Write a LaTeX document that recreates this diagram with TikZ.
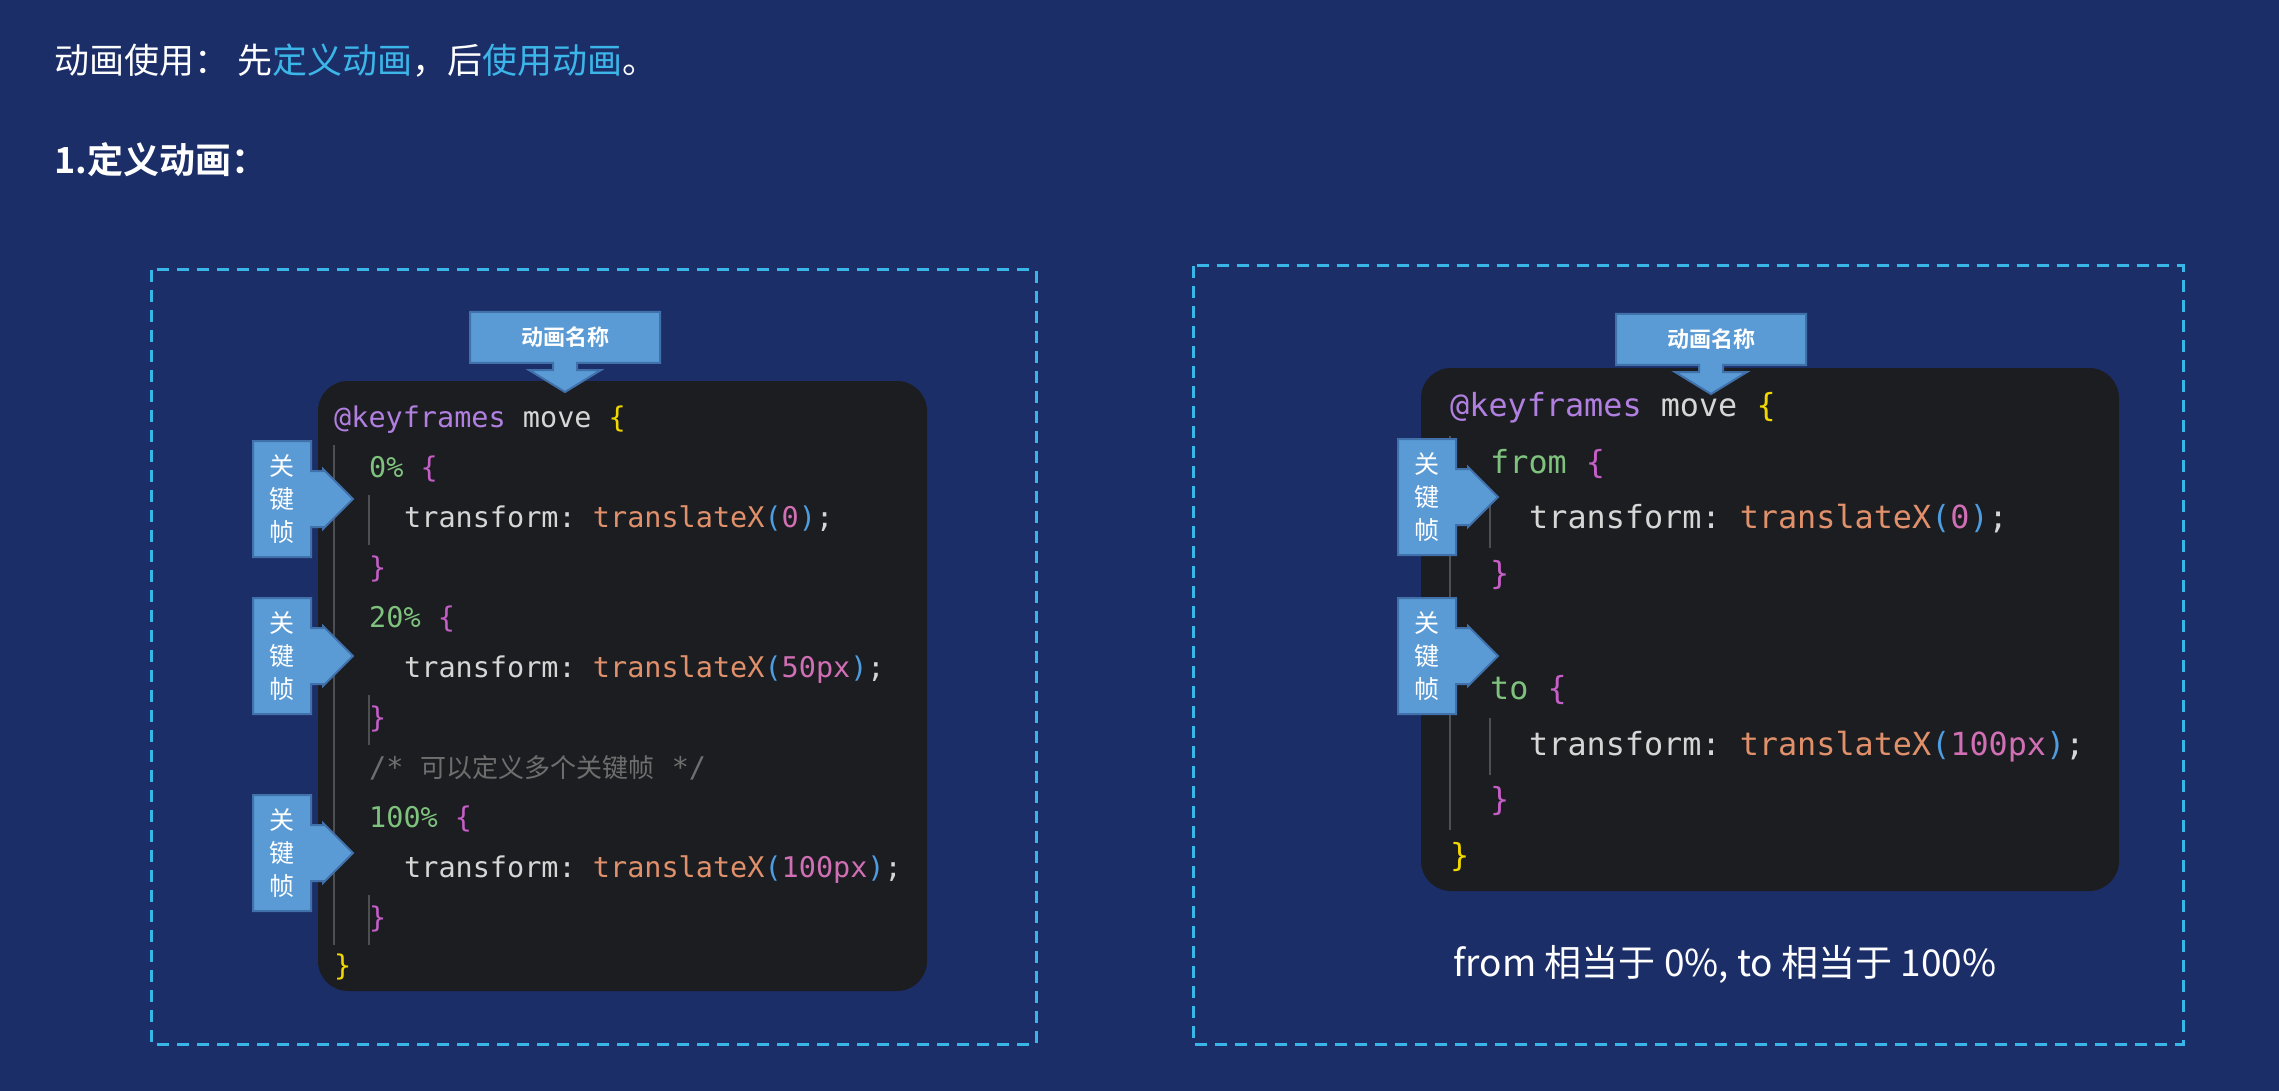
\documentclass[tikz,border=0pt]{standalone}
\usepackage{fontspec}
\setmonofont{DejaVu Sans Mono}
\newfontfamily\cjk{Noto Sans CJK SC}
\newfontfamily\cjkb{Noto Sans CJK SC Bold}
\definecolor{bg}{RGB}{27,46,104}
\definecolor{dash}{RGB}{56,182,232}
\definecolor{panel}{RGB}{28,29,33}
\definecolor{lbl}{RGB}{91,155,213}
\definecolor{lbld}{RGB}{65,113,170}
\definecolor{kw}{RGB}{176,127,224}
\definecolor{pl}{RGB}{214,214,214}
\definecolor{yb}{RGB}{241,215,0}
\definecolor{gn}{RGB}{126,194,126}
\definecolor{mg}{RGB}{197,95,199}
\definecolor{fn}{RGB}{224,144,106}
\definecolor{pb}{RGB}{77,157,224}
\definecolor{nm}{RGB}{209,111,181}
\definecolor{cm}{RGB}{110,110,110}
\definecolor{hl}{RGB}{60,182,232}
\begin{document}
\begin{tikzpicture}[x=1pt,y=-1pt,
  boxd/.style={draw=dash,line width=3pt,dash pattern=on 12pt off 8pt},
  pnl/.style={fill=panel,rounded corners=30pt},
  lblshape/.style={fill=lbl,draw=lbld,line width=2pt},
  lbltxt/.style={text=white,font=\cjkb\fontsize{22}{26}\selectfont,align=center,inner sep=0pt},
  codeL/.style={anchor=west,inner sep=0pt,font=\ttfamily\fontsize{28.5}{30}\selectfont,text height=21pt,text depth=6pt},
  codeR/.style={anchor=west,inner sep=0pt,font=\ttfamily\fontsize{31.8}{34}\selectfont,text height=23pt,text depth=7pt},
  guide/.style={draw=white!22!panel,line width=1.2pt}]
\fill[bg] (0,0) rectangle (2279,1091);
\useasboundingbox (0,0) rectangle (2279,1091);
% titles
\node[anchor=west,inner sep=0pt,font=\cjk\fontsize{35}{40}\selectfont,text=white] (t1) at (54,61)
  {动画使用： 先\textcolor{hl}{定义动画}，后\textcolor{hl}{使用动画}。};
\node[anchor=west,inner sep=0pt,font=\cjkb\fontsize{36}{40}\selectfont,text=white] (t2) at (54,160) {1.定义动画：};
% dashed frames
\draw[boxd] (151,270) rectangle (1036,1044);
\draw[boxd] (1193,266) rectangle (2183,1044);
% panels
\fill[pnl] (318,381) rectangle (927,991);
\fill[pnl] (1421,368) rectangle (2119,891);
% guides left
\draw[guide] (334,445) -- (334,945);
\draw[guide] (369,495) -- (369,545);
\draw[guide] (369,695) -- (369,745);
\draw[guide] (369,895) -- (369,945);
% guides right
\draw[guide] (1450,436) -- (1450,830);
\draw[guide] (1490,492) -- (1490,548);
\draw[guide] (1490,718) -- (1490,775);
% name labels
\foreach \cx/\ty/\nm in {565/312/nameL,1711/314/nameR}{
  \draw[lblshape] (\cx-95,\ty) -- (\cx+95,\ty) -- (\cx+95,\ty+51) -- (\cx+12,\ty+51) -- (\cx+12,\ty+58)
    -- (\cx+36,\ty+58) -- (\cx,\ty+80) -- (\cx-36,\ty+58) -- (\cx-12,\ty+58) -- (\cx-12,\ty+51) -- (\cx-95,\ty+51) -- cycle;
  \node[lbltxt] (\nm) at (\cx,\ty+25) {动画名称};
}
% keyframe labels
\foreach \lx/\cy/\nm in {253/499/kA,253/656/kB,253/853/kC,1398/497/kD,1398/656/kE}{
  \draw[lblshape] (\lx,\cy-58) -- (\lx+58,\cy-58) -- (\lx+58,\cy-28) -- (\lx+70,\cy-28) -- (\lx+70,\cy-30)
    -- (\lx+100,\cy) -- (\lx+70,\cy+30) -- (\lx+70,\cy+28) -- (\lx+58,\cy+28) -- (\lx+58,\cy+58) -- (\lx,\cy+58) -- cycle;
  \node[lbltxt,font=\cjk\fontsize{25}{33}\selectfont] (\nm) at (\lx+29,\cy) {关\\键\\帧};
}
% left code
\node[codeL] (l1) at (334,420) {\textcolor{kw}{@keyframes} \textcolor{pl}{move} \textcolor{yb}{\{}};
\node[codeL] (l2) at (369,470) {\textcolor{gn}{0\%} \textcolor{mg}{\{}};
\node[codeL] (l3) at (404,520) {\textcolor{pl}{transform:} \textcolor{fn}{translateX}\textcolor{pb}{(}\textcolor{nm}{0}\textcolor{pb}{)}\textcolor{pl}{;}};
\node[codeL] (l4) at (369,570) {\textcolor{mg}{\}}};
\node[codeL] (l5) at (369,620) {\textcolor{gn}{20\%} \textcolor{mg}{\{}};
\node[codeL] (l6) at (404,670) {\textcolor{pl}{transform:} \textcolor{fn}{translateX}\textcolor{pb}{(}\textcolor{nm}{50px}\textcolor{pb}{)}\textcolor{pl}{;}};
\node[codeL] (l7) at (369,720) {\textcolor{mg}{\}}};
\node[codeL] (l8) at (369,770) {\textcolor{cm}{/* {\cjk\fontsize{26}{30}\selectfont 可以定义多个关键帧} */}};
\node[codeL] (l9) at (369,820) {\textcolor{gn}{100\%} \textcolor{mg}{\{}};
\node[codeL] (l10) at (404,870) {\textcolor{pl}{transform:} \textcolor{fn}{translateX}\textcolor{pb}{(}\textcolor{nm}{100px}\textcolor{pb}{)}\textcolor{pl}{;}};
\node[codeL] (l11) at (369,920) {\textcolor{mg}{\}}};
\node[codeL] (l12) at (334,968) {\textcolor{yb}{\}}};
% right code
\node[codeR] (r1) at (1450,408) {\textcolor{kw}{@keyframes} \textcolor{pl}{move} \textcolor{yb}{\{}};
\node[codeR] (r2) at (1490,465) {\textcolor{gn}{from} \textcolor{mg}{\{}};
\node[codeR] (r3) at (1529,520) {\textcolor{pl}{transform:} \textcolor{fn}{translateX}\textcolor{pb}{(}\textcolor{nm}{0}\textcolor{pb}{)}\textcolor{pl}{;}};
\node[codeR] (r4) at (1490,576) {\textcolor{mg}{\}}};
\node[codeR] (r5) at (1490,691) {\textcolor{gn}{to} \textcolor{mg}{\{}};
\node[codeR] (r6) at (1529,747) {\textcolor{pl}{transform:} \textcolor{fn}{translateX}\textcolor{pb}{(}\textcolor{nm}{100px}\textcolor{pb}{)}\textcolor{pl}{;}};
\node[codeR] (r7) at (1490,802) {\textcolor{mg}{\}}};
\node[codeR] (r8) at (1450,858) {\textcolor{yb}{\}}};
% note
\node[inner sep=0pt,font=\cjk\fontsize{37}{42}\selectfont,text=white] (note) at (1725,964) {from 相当于 0\%,\ to 相当于 100\%};
\end{tikzpicture}
\end{document}
